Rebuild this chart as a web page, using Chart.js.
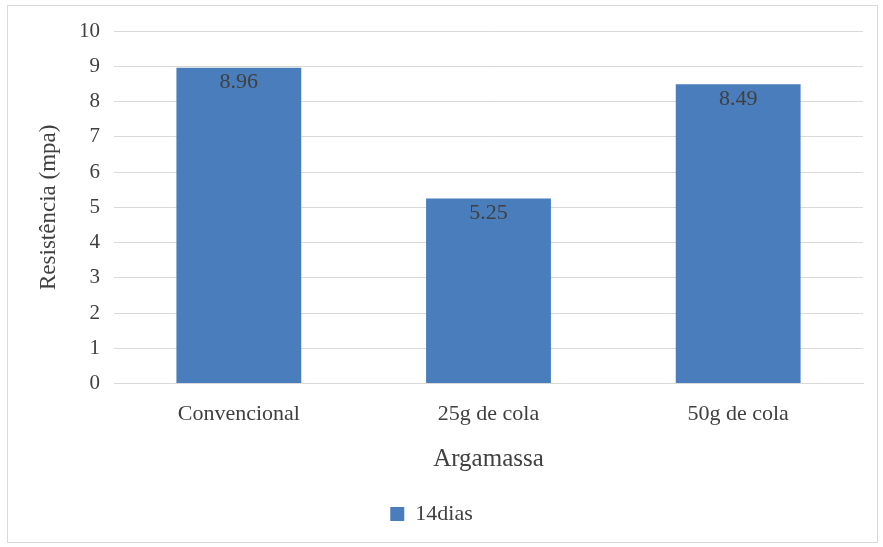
<!DOCTYPE html>
<html>
<head>
<meta charset="utf-8">
<script src="https://cdn.jsdelivr.net/npm/chart.js@4/dist/chart.umd.min.js"></script>
<style>
  html, body { margin: 0; padding: 0; background: #ffffff; }
  #wrap { position: absolute; left: 0; top: 0; width: 883px; height: 547px; }
</style>
</head>
<body>
<div id="wrap"><canvas id="c" width="883" height="547"></canvas></div>
<script>
// Compressive strength at 14 days per mortar type
const categories = ['Convencional', '25g de cola', '50g de cola'];
const resistencia14dias = [8.96, 5.25, 8.49];
const seriesName = '14dias';
const yTicks = [0, 1, 2, 3, 4, 5, 6, 7, 8, 9, 10];

const FONT = "'Liberation Serif', 'Times New Roman', serif";
const TEXT = '#404040';
const BAR = '#4a7dbb';

// Light frame around the whole chart
const framePlugin = {
  id: 'frame',
  beforeDraw(chart) {
    const ctx = chart.ctx;
    ctx.save();
    ctx.fillStyle = '#ffffff';
    ctx.fillRect(0, 0, chart.width, chart.height);
    ctx.strokeStyle = '#d9d9d9';
    ctx.lineWidth = 1;
    ctx.strokeRect(7.5, 5.5, 870, 537);
    ctx.restore();
  }
};

// Value labels just inside the top of each bar
const valueLabels = {
  id: 'valueLabels',
  afterDatasetsDraw(chart) {
    const ctx = chart.ctx;
    ctx.save();
    ctx.font = '22px ' + FONT;
    ctx.fillStyle = TEXT;
    ctx.textAlign = 'center';
    ctx.textBaseline = 'middle';
    chart.data.datasets.forEach((ds, i) => {
      chart.getDatasetMeta(i).data.forEach((bar, j) => {
        ctx.fillText(ds.data[j].toFixed(2), bar.x, bar.y + 15);
      });
    });
    ctx.restore();
  }
};

new Chart(document.getElementById('c'), {
  type: 'bar',
  data: {
    labels: categories,
    datasets: [{
      label: seriesName,
      data: resistencia14dias,
      backgroundColor: BAR,
      borderWidth: 0,
      categoryPercentage: 1.0,
      barPercentage: 0.5
    }]
  },
  options: {
    responsive: false,
    animation: false,
    devicePixelRatio: 1,
    layout: { padding: { top: 31, right: 20, left: 0, bottom: 12 } },
    plugins: {
      tooltip: { enabled: false },
      legend: {
        position: 'bottom',
        labels: {
          color: TEXT,
          font: { family: FONT, size: 22 },
          boxWidth: 14,
          boxHeight: 14,
          padding: 21,
          useBorderRadius: false
        }
      }
    },
    scales: {
      x: {
        grid: { display: false, drawTicks: false },
        border: { display: true, color: '#d9d9d9', width: 1 },
        ticks: { color: TEXT, font: { family: FONT, size: 22 }, padding: 17 },
        title: {
          display: true,
          text: 'Argamassa',
          color: TEXT,
          font: { family: FONT, size: 25 },
          padding: { top: 0, bottom: 8 }
        }
      },
      y: {
        min: 0,
        max: 10,
        afterBuildTicks(scale) {
          scale.ticks = yTicks.map(v => ({ value: v }));
        },
        afterFit(scale) { scale.width = 114; },
        grid: { color: '#d9d9d9', drawTicks: false },
        border: { display: false },
        ticks: { color: TEXT, font: { family: FONT, size: 21 }, padding: 14 },
        title: {
          display: true,
          text: 'Resistência (mpa)',
          color: TEXT,
          font: { family: FONT, size: 23 },
          padding: { top: 35, bottom: 0 }
        }
      }
    }
  },
  plugins: [framePlugin, valueLabels]
});
</script>
</body>
</html>
